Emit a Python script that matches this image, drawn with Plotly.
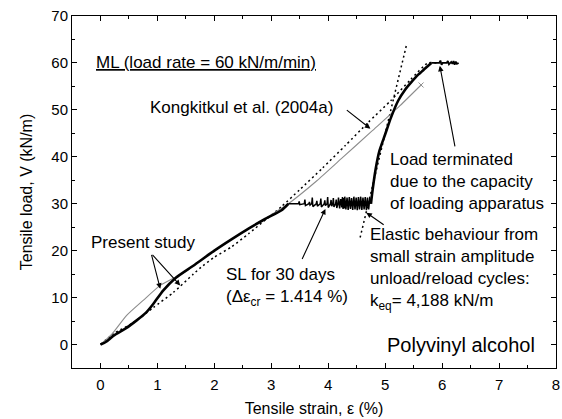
import plotly.graph_objects as go

# Present study: monotonic loading (ML) up to the sustained-load level
present_strain = [0.0, 0.10, 0.23, 0.45, 0.63, 0.80, 0.93, 1.10, 1.33, 1.63, 2.00, 2.30, 2.60, 2.90, 3.18, 3.30]
present_load = [0.0, 0.6, 1.9, 3.5, 5.1, 6.8, 8.7, 11.5, 14.3, 16.8, 20.0, 22.4, 24.7, 26.8, 28.6, 30.0]

# Sustained loading (SL) for 30 days with small unload/reload cycles
creep_strain = [3.30, 3.48, 3.49, 3.50, 3.58, 3.59, 3.60, 3.66, 3.67, 3.68, 3.71, 3.72,
                3.73, 3.79, 3.80, 3.81, 3.86, 3.87, 3.88, 3.93, 3.94, 3.95, 3.98, 3.99,
                4.00, 4.04, 4.05, 4.06, 4.08, 4.09, 4.10, 4.13, 4.14, 4.15, 4.17, 4.18,
                4.20, 4.21, 4.22, 4.24, 4.25, 4.26, 4.27, 4.28, 4.29, 4.31, 4.33, 4.35,
                4.37, 4.39, 4.41, 4.43, 4.45, 4.47, 4.49, 4.51, 4.53, 4.55, 4.57, 4.59,
                4.61, 4.63, 4.65, 4.67, 4.69, 4.71, 4.73, 4.75]
creep_load = [30.0, 30.0, 30.5, 29.8, 30.0, 30.9, 29.6, 30.0, 30.4, 29.7, 30.0, 31.3,
              29.4, 30.0, 30.6, 29.5, 30.0, 31.1, 29.3, 30.0, 30.7, 29.6, 30.0, 31.4,
              29.2, 30.0, 30.8, 29.5, 30.0, 31.2, 29.3, 30.0, 30.9, 29.1, 30.0, 31.3,
              29.0, 30.0, 31.0, 29.2, 31.4, 28.9, 31.2, 29.0, 31.5, 28.8, 31.3, 28.7,
              31.4, 28.9, 31.2, 28.7, 31.5, 28.8, 31.3, 28.6, 31.4, 28.8, 31.5, 28.7,
              31.3, 28.8, 31.4, 28.6, 31.3, 28.8, 31.2, 30.0]

# Reloading after SL up to the capacity of the loading apparatus
reload_strain = [4.75, 4.78, 4.83, 4.90, 5.00, 5.10, 5.23, 5.35, 5.46, 5.58, 5.70, 5.81]
reload_load = [30.0, 33.0, 37.2, 41.3, 44.8, 48.3, 52.0, 54.3, 55.9, 57.5, 58.8, 60.0]

# Load held at 60 kN/m when loading was terminated
hold_strain = [5.81, 5.95, 5.97, 5.99, 6.01, 6.08, 6.10, 6.12, 6.16, 6.18, 6.20, 6.22, 6.24, 6.26, 6.29]
hold_load = [60.0, 60.0, 60.5, 59.6, 60.0, 60.0, 60.4, 59.7, 60.2, 59.8, 60.4, 59.6, 60.3, 59.8, 60.0]

# Kongkitkul et al. (2004a): continuous ML test
kong_strain = [0.0, 0.20, 0.46, 0.75, 1.05, 1.46, 1.63, 2.00, 2.30, 2.60, 2.90, 3.30, 3.80, 4.23, 4.76, 5.26, 5.63]
kong_load = [0.0, 2.2, 6.2, 9.4, 12.6, 15.3, 16.8, 20.0, 22.4, 24.7, 26.9, 30.0, 34.9, 39.6, 45.4, 50.9, 55.3]

# Simulated ML curve (dotted)
sim_strain = [0.0, 0.23, 0.58, 0.93, 1.28, 1.63, 1.80, 2.00, 2.30, 2.60, 2.90, 3.18, 3.50, 3.90, 4.30, 4.70, 5.10, 5.45, 5.75, 5.90]
sim_load = [0.0, 2.3, 4.7, 7.9, 11.1, 15.0, 16.8, 18.6, 20.8, 23.6, 26.6, 29.4, 33.0, 37.6, 42.4, 47.3, 52.0, 56.5, 60.0, 60.0]

# Elastic stiffness line from unload/reload cycles (dotted)
elastic_strain = [4.56, 5.37]
elastic_load = [22.8, 63.6]

FONT = "Liberation Sans, Arial, sans-serif"

fig = go.Figure()

fig.add_trace(go.Scatter(x=sim_strain, y=sim_load, mode="lines",
                         line=dict(color="black", width=1.5, dash="2px,3px", shape="spline", smoothing=0.6)))
fig.add_trace(go.Scatter(x=elastic_strain, y=elastic_load, mode="lines",
                         line=dict(color="black", width=1.5, dash="2px,3px")))
fig.add_trace(go.Scatter(x=kong_strain, y=kong_load, mode="lines",
                         line=dict(color="#8c8c8c", width=1.1, shape="spline", smoothing=0.6)))
fig.add_trace(go.Scatter(x=kong_strain[-1:], y=kong_load[-1:], mode="markers",
                         marker=dict(symbol="x-thin", size=5, color="#8c8c8c",
                                     line=dict(width=1, color="#8c8c8c"))))
fig.add_trace(go.Scatter(x=present_strain, y=present_load, mode="lines",
                         line=dict(color="black", width=2.6, shape="spline", smoothing=0.6)))
fig.add_trace(go.Scatter(x=creep_strain, y=creep_load, mode="lines",
                         line=dict(color="black", width=1.5)))
fig.add_trace(go.Scatter(x=reload_strain, y=reload_load, mode="lines",
                         line=dict(color="black", width=2.6, shape="spline", smoothing=0.6)))
fig.add_trace(go.Scatter(x=hold_strain, y=hold_load, mode="lines",
                         line=dict(color="black", width=1.8)))


def label(x, y, text, size=17, xanchor="left"):
    fig.add_annotation(x=x, y=y, xref="x", yref="y", text=text, showarrow=False,
                       xanchor=xanchor, yanchor="middle", align=xanchor,
                       font=dict(family=FONT, size=size, color="black"))


def arrow(tail_x, tail_y, tip_x, tip_y):
    fig.add_annotation(x=tip_x, y=tip_y, ax=tail_x, ay=tail_y, xref="x", yref="y",
                       axref="x", ayref="y", text="", showarrow=True,
                       arrowhead=2, arrowsize=1.0, arrowwidth=1.1, arrowcolor="black")


label(-0.12, 60.0, "<u>ML (load rate = 60 kN/m/min)</u>")
label(0.84, 50.6, "Kongkitkul et al. (2004a)")
label(5.05, 34.7, "Load terminated<br>due to the capacity<br>of loading apparatus")
label(2.17, 12.3, "SL for 30 days<br>(Δε<sub>cr</sub> = 1.414 %)")
label(4.70, 16.0, "Elastic behaviour from<br>small strain amplitude<br>unload/reload cycles:<br>k<sub>eq</sub>= 4,188 kN/m")
label(-0.21, 21.7, "Present study")
label(7.66, -0.2, "Polyvinyl alcohol", size=20, xanchor="right")

arrow(4.30, 50.2, 4.74, 46.0)
arrow(6.23, 41.9, 5.96, 59.4)
arrow(3.53, 17.9, 3.95, 28.9)
arrow(5.00, 25.3, 4.67, 28.1)
arrow(0.89, 19.4, 1.05, 11.9)
arrow(0.89, 19.4, 1.40, 12.6)

axis_common = dict(
    showline=True, linecolor="black", linewidth=1, mirror="allticks",
    ticks="inside", ticklen=5, tickwidth=1, tickcolor="black",
    showgrid=False, zeroline=False,
    tickfont=dict(family=FONT, size=15, color="black"),
)

fig.update_xaxes(
    range=[-0.5, 8], tick0=0, dtick=1,
    minor=dict(ticks="inside", ticklen=3, dtick=0.5, tick0=0, tickcolor="black", showgrid=False),
    title=dict(text="Tensile strain, ε (%)", font=dict(family=FONT, size=16, color="black"), standoff=10),
    ticklabelstandoff=3,
    **axis_common,
)
fig.update_yaxes(
    range=[-5, 70], tick0=0, dtick=10,
    minor=dict(ticks="inside", ticklen=3, dtick=5, tick0=0, tickcolor="black", showgrid=False),
    title=dict(text="Tensile load, V (kN/m)", font=dict(family=FONT, size=16, color="black"), standoff=14),
    **axis_common,
)

fig.update_layout(
    width=562, height=419,
    margin=dict(l=72, r=6, t=16, b=51, autoexpand=False),
    paper_bgcolor="white", plot_bgcolor="white",
    showlegend=False,
)

fig.write_html("out.html")
